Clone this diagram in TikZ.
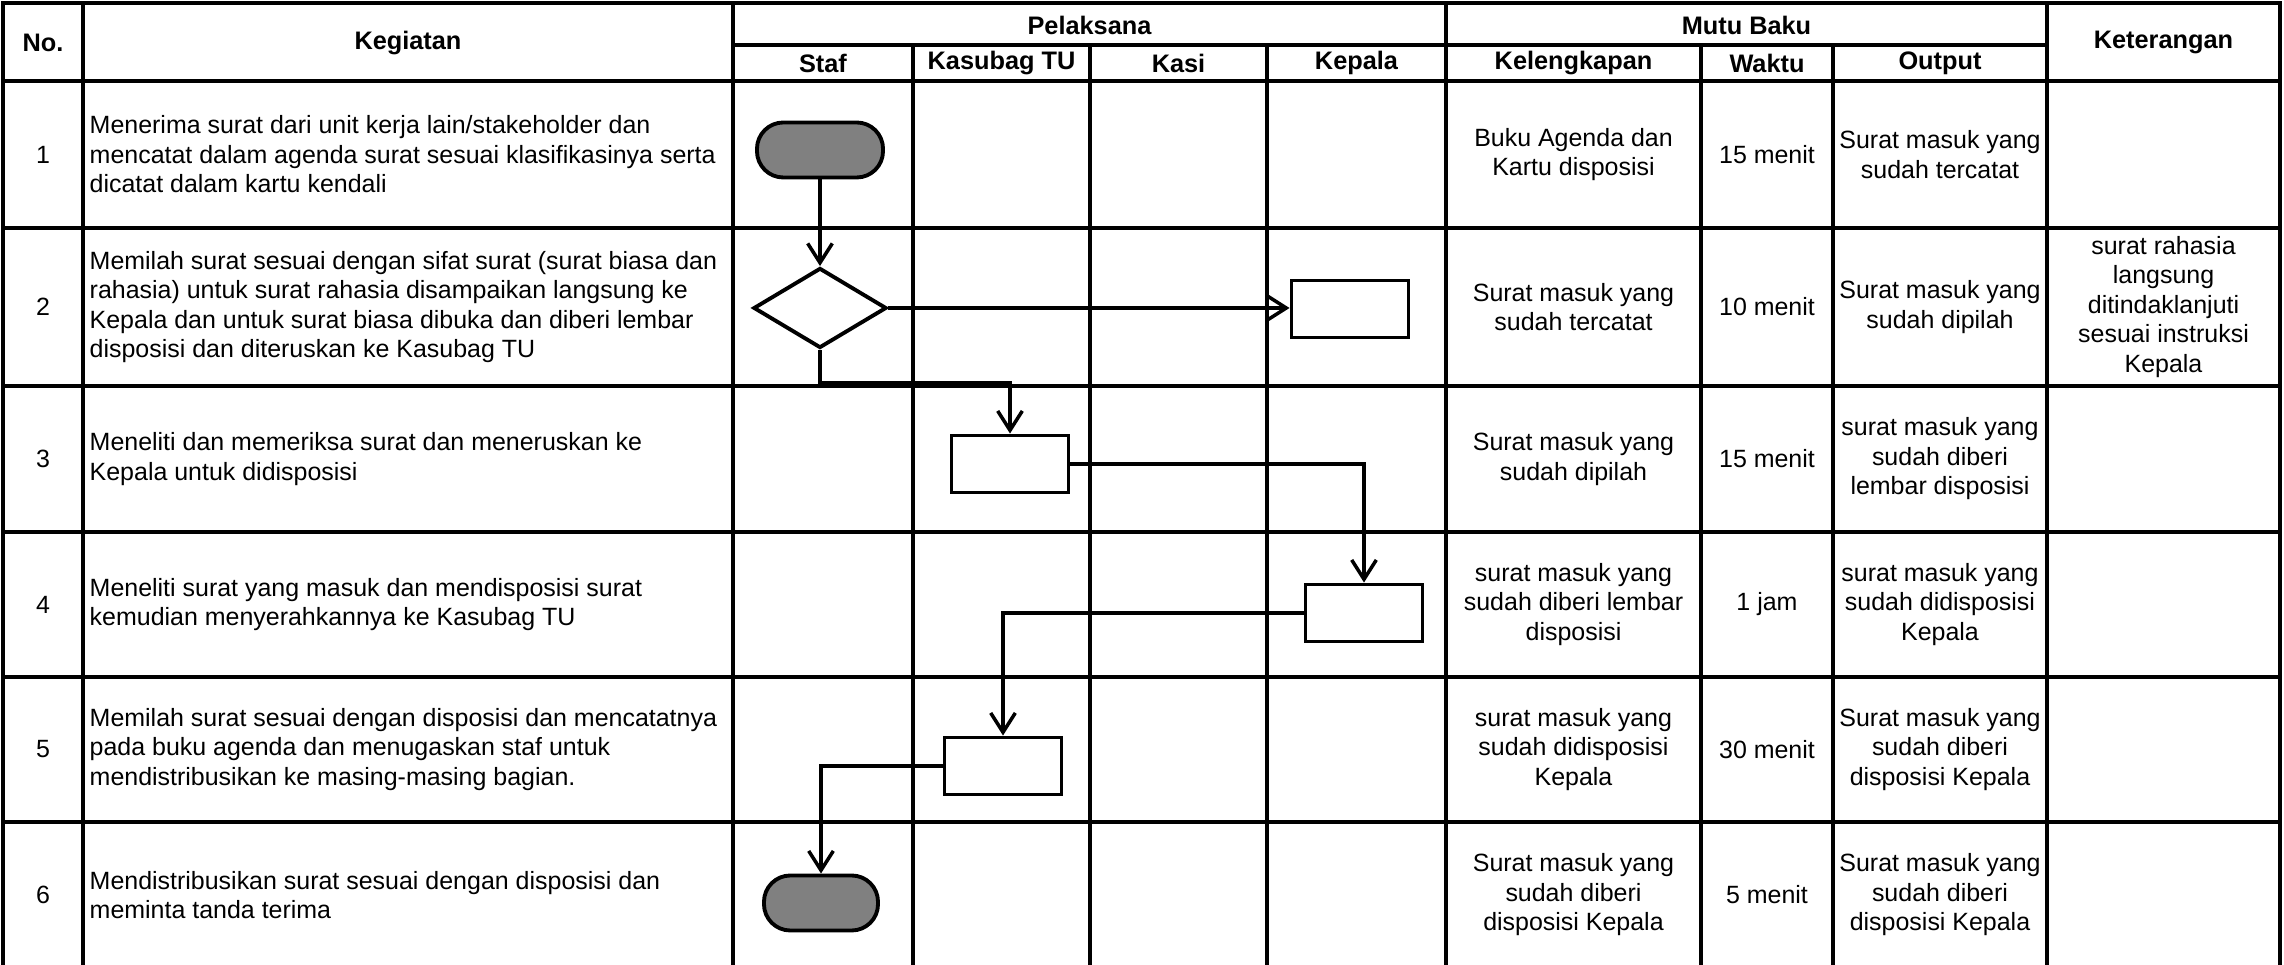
\documentclass[tikz,border=0pt]{standalone}
\usepackage{fontspec}
\setmainfont{Liberation Sans}
\usetikzlibrary{shapes.geometric,arrows.meta}

\begin{document}
\begin{tikzpicture}[x=0.01cm,y=-0.01cm,
	font=\fontsize{7.1}{8.4}\selectfont,
	grid/.style={line width=1pt},
	head/.style={font=\fontsize{7.2}{8.4}\selectfont\bfseries},
	isi/.style={align=center, inner sep=0pt},
	langkah/.style={align=left, anchor=west, inner sep=0pt},
	terminal/.style={draw, line width=1.1pt, fill=gray, rounded corners=7.5pt,
		minimum width=1.26cm, minimum height=0.55cm, inner sep=0pt},
	proses/.style={draw, line width=1.1pt, fill=white,
		minimum width=1.17cm, minimum height=0.57cm, inner sep=0pt},
	keputusan/.style={draw, diamond, line width=1.1pt, fill=white,
		minimum width=1.33cm, minimum height=0.8cm, inner sep=0pt},
	alur/.style={line width=1pt, -{Straight Barb[length=5.5pt,width=7pt]}}]
	
	\useasboundingbox (0,0) rectangle (2284,965);
	
	% Outer frame and header lines
	\draw[grid] (3,965) -- (3,3) -- (2280,3) -- (2280,965);
	\draw[grid] (733,45) -- (2047,45);
	\draw[grid] (3,81) -- (2280,81);
	
	% Row lines
	\draw[grid] (3,228) -- (2280,228);
	\draw[grid] (3,386) -- (2280,386);
	\draw[grid] (3,532) -- (2280,532);
	\draw[grid] (3,677) -- (2280,677);
	\draw[grid] (3,822) -- (2280,822);
	
	% Column lines
	\draw[grid] (83,3) -- (83,965);
	\draw[grid] (733,3) -- (733,965);
	\draw[grid] (1446,3) -- (1446,965);
	\draw[grid] (2047,3) -- (2047,965);
	\draw[grid] (913,45) -- (913,965);
	\draw[grid] (1090,45) -- (1090,965);
	\draw[grid] (1267,45) -- (1267,965);
	\draw[grid] (1701,45) -- (1701,965);
	\draw[grid] (1833,45) -- (1833,965);
	
	% Header
	\node[head] (no) at (43,43) {No.};
	\node[head] (kegiatan) at (408,43) {Kegiatan};
	\node[head] (pelaksana) at (1089.5,25) {Pelaksana};
	\node[head] (staf) at (823,63) {Staf};
	\node[head] (kasubag) at (1001.5,63) {Kasubag TU};
	\node[head] (kasi) at (1178.5,63) {Kasi};
	\node[head] (kepala) at (1356.5,63) {Kepala};
	\node[head] (mutu) at (1746.5,25) {Mutu Baku};
	\node[head] (kelengkapan) at (1573.5,63) {Kelengkapan};
	\node[head] (waktu) at (1767,63) {Waktu};
	\node[head] (output) at (1940,63) {Output};
	\node[head] (keterangan) at (2163.5,42) {Keterangan};
	
	% Row 1
	\node (no1) at (43,154.5) {1};
	\node[langkah] (keg1) at (89,154.5) {Menerima surat dari unit kerja lain/stakeholder dan\\mencatat dalam agenda surat sesuai klasifikasinya serta\\dicatat dalam kartu kendali};
	\node[isi] (kel1) at (1573.5,154.5) {Buku Agenda dan\\Kartu disposisi};
	\node[isi] (wak1) at (1767,154.5) {15 menit};
	\node[isi] (out1) at (1940,154.5) {Surat masuk yang\\sudah tercatat};
	
	% Row 2
	\node (no2) at (43,307) {2};
	\node[langkah] (keg2) at (89,307) {Memilah surat sesuai dengan sifat surat (surat biasa dan\\rahasia) untuk surat rahasia disampaikan langsung ke\\Kepala dan untuk surat biasa dibuka dan diberi lembar\\disposisi dan diteruskan ke Kasubag TU};
	\node[isi] (kel2) at (1573.5,307) {Surat masuk yang\\sudah tercatat};
	\node[isi] (wak2) at (1767,307) {10 menit};
	\node[isi] (out2) at (1940,307) {Surat masuk yang\\sudah dipilah};
	\node[isi] (ket2) at (2163.5,307) {surat rahasia\\langsung\\ditindaklanjuti\\sesuai instruksi\\Kepala};
	
	% Row 3
	\node (no3) at (43,459) {3};
	\node[langkah] (keg3) at (89,459) {Meneliti dan memeriksa surat dan meneruskan ke\\Kepala untuk didisposisi};
	\node[isi] (kel3) at (1573.5,459) {Surat masuk yang\\sudah dipilah};
	\node[isi] (wak3) at (1767,459) {15 menit};
	\node[isi] (out3) at (1940,459) {surat masuk yang\\sudah diberi\\lembar disposisi};
	
	% Row 4
	\node (no4) at (43,604.5) {4};
	\node[langkah] (keg4) at (89,604.5) {Meneliti surat yang masuk dan mendisposisi surat\\kemudian menyerahkannya ke Kasubag TU};
	\node[isi] (kel4) at (1573.5,604.5) {surat masuk yang\\sudah diberi lembar\\disposisi};
	\node[isi] (wak4) at (1767,604.5) {1 jam};
	\node[isi] (out4) at (1940,604.5) {surat masuk yang\\sudah didisposisi\\Kepala};
	
	% Row 5
	\node (no5) at (43,749.5) {5};
	\node[langkah] (keg5) at (89,749.5) {Memilah surat sesuai dengan disposisi dan mencatatnya\\pada buku agenda dan menugaskan staf untuk\\mendistribusikan ke masing-masing bagian.};
	\node[isi] (kel5) at (1573.5,749.5) {surat masuk yang\\sudah didisposisi\\Kepala};
	\node[isi] (wak5) at (1767,749.5) {30 menit};
	\node[isi] (out5) at (1940,749.5) {Surat masuk yang\\sudah diberi\\disposisi Kepala};
	
	% Row 6
	\node (no6) at (43,895) {6};
	\node[langkah] (keg6) at (89,895) {Mendistribusikan surat sesuai dengan disposisi dan\\meminta tanda terima};
	\node[isi] (kel6) at (1573.5,895) {Surat masuk yang\\sudah diberi\\disposisi Kepala};
	\node[isi] (wak6) at (1767,895) {5 menit};
	\node[isi] (out6) at (1940,895) {Surat masuk yang\\sudah diberi\\disposisi Kepala};
	
	% Flow shapes
	\node[terminal] (mulai) at (820,150) {};
	\node[keputusan] (pilah) at (820,308) {};
	\node[proses] (kepala2) at (1350,309) {};
	\node[proses] (kasubag3) at (1010,464) {};
	\node[proses] (kepala4) at (1364,613) {};
	\node[proses] (kasubag5) at (1003,766) {};
	\node[terminal, minimum width=1.14cm] (selesai) at (821,903) {};
	
	% Flow
	\draw[alur] (mulai) -- (pilah);
	\draw[alur] (pilah.east) -- (pilah.east -| kepala2.west);
	\draw[alur] (pilah.south) -- ++(0,33) -| (kasubag3.north);
	\draw[alur] (kasubag3.east) -| (kepala4.north);
	\draw[alur] (kepala4.west) -| (kasubag5.north);
	\draw[alur] (kasubag5.west) -| (selesai.north);
	
\end{tikzpicture}
\end{document}
